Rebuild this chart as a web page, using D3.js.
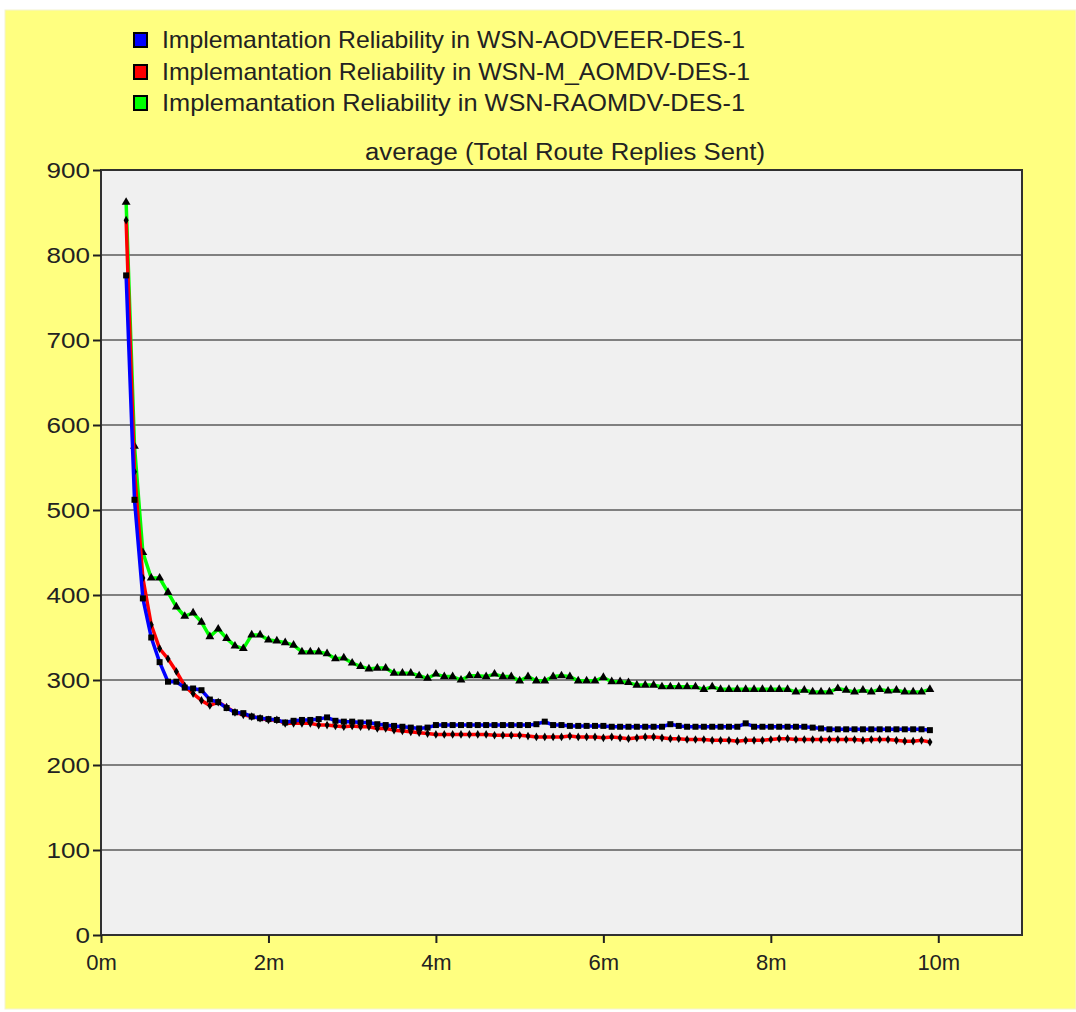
<!DOCTYPE html>
<html>
<head>
<meta charset="utf-8">
<script src="https://cdn.jsdelivr.net/npm/d3@7"></script>
<style>
  body { margin: 0; background: #fff; }
  svg { display: block; font-family: "Liberation Sans", Arial, sans-serif; }
</style>
</head>
<body>
<div id="chart"></div>
<script>
// sample times (minutes)
const times = [0.3, 0.4, 0.5, 0.6, 0.7, 0.8, 0.9, 1.0, 1.1, 1.2, 1.3, 1.4, 1.5, 1.6, 1.7, 1.8, 1.9,
  2.0, 2.1, 2.2, 2.3, 2.4, 2.5, 2.6, 2.7, 2.8, 2.9, 3.0, 3.1, 3.2, 3.3, 3.4, 3.5, 3.6, 3.7, 3.8, 3.9,
  4.0, 4.1, 4.2, 4.3, 4.4, 4.5, 4.6, 4.7, 4.8, 4.9, 5.0, 5.1, 5.2, 5.3, 5.4, 5.5, 5.6, 5.7, 5.8, 5.9,
  6.0, 6.1, 6.2, 6.3, 6.4, 6.5, 6.6, 6.7, 6.8, 6.9, 7.0, 7.1, 7.2, 7.3, 7.4, 7.5, 7.6, 7.7, 7.8, 7.9,
  8.0, 8.1, 8.2, 8.3, 8.4, 8.5, 8.6, 8.7, 8.8, 8.9, 9.0, 9.1, 9.2, 9.3, 9.4, 9.5, 9.6, 9.7, 9.8, 9.9];

const aodveer = [776, 512, 396, 350, 321, 298, 298, 291, 290, 288, 277, 274, 267, 262, 261, 257, 255,
  254, 253, 250, 252, 253, 253, 254, 256, 252, 251, 251, 250, 250, 248, 247, 246, 245, 244, 243, 244,
  247, 247, 247, 247, 247, 247, 247, 247, 247, 247, 247, 247, 248, 251, 247, 247, 246, 246, 246, 246,
  246, 245, 245, 245, 245, 245, 245, 245, 248, 246, 245, 245, 245, 245, 245, 245, 245, 249, 245, 245,
  245, 245, 245, 245, 245, 244, 243, 242, 242, 242, 242, 242, 242, 242, 242, 242, 242, 242, 242, 241];

const mAomdv = [841, 545, 420, 365, 337, 325, 310, 293, 284, 276, 270, 274, 268, 262, 259, 257, 255,
  253, 253, 249, 249, 249, 249, 247, 247, 246, 245, 246, 245, 245, 243, 243, 241, 240, 239, 238, 237,
  236, 236, 236, 236, 236, 236, 236, 235, 235, 235, 235, 234, 233, 233, 233, 233, 234, 233, 233, 233,
  232, 233, 232, 231, 232, 233, 233, 232, 231, 231, 230, 230, 230, 229, 229, 229, 228, 229, 229, 229,
  230, 231, 231, 230, 230, 230, 230, 230, 230, 230, 230, 229, 230, 230, 230, 229, 228, 228, 229, 227];

const raomdv = [862, 575, 450, 420, 420, 403, 386, 375, 379, 368, 351, 360, 349, 340, 337, 353, 353,
  347, 346, 344, 341, 333, 333, 333, 331, 325, 326, 320, 316, 313, 314, 314, 308, 308, 308, 305, 302,
  307, 304, 304, 300, 305, 305, 304, 307, 304, 304, 299, 304, 299, 299, 304, 305, 304, 299, 299, 299,
  303, 298, 298, 297, 294, 294, 294, 292, 292, 292, 292, 292, 289, 292, 289, 289, 289, 289, 289, 289,
  289, 289, 289, 286, 288, 286, 286, 286, 290, 288, 286, 288, 286, 289, 287, 288, 286, 286, 286, 289];

const seriesNames = [
  "Implemantation Reliability in WSN-AODVEER-DES-1",
  "Implemantation Reliability in WSN-M_AOMDV-DES-1",
  "Implemantation Reliability in WSN-RAOMDV-DES-1"
];
const seriesColors = ["#0000ff", "#ff0000", "#00ff00"];
const yTicks = [0, 100, 200, 300, 400, 500, 600, 700, 800, 900];
const xTicks = [0, 2, 4, 6, 8, 10];
const xTickLabels = ["0m", "2m", "4m", "6m", "8m", "10m"];
const chartTitle = "average (Total Route Replies Sent)";

const W = 1076, H = 1012;
const plot = { left: 101, right: 1022, top: 170, bottom: 935 };

const svg = d3.select("#chart").append("svg").attr("width", W).attr("height", H);

// yellow panel
svg.append("rect").attr("x", 5).attr("y", 10).attr("width", W - 5).attr("height", 999)
  .attr("fill", "#ffff80").attr("stroke", "#f4f4d0").attr("stroke-width", 1);

const x = d3.scaleLinear().domain([0, 11]).range([plot.left, plot.right]);
const y = d3.scaleLinear().domain([0, 900]).range([plot.bottom, plot.top]);

svg.append("rect")
  .attr("x", plot.left).attr("y", plot.top)
  .attr("width", plot.right - plot.left).attr("height", plot.bottom - plot.top)
  .attr("fill", "#f0f0f0");

// grid
svg.append("g").selectAll("line")
  .data(yTicks.filter(d => d > 0 && d < 900))
  .join("line")
  .attr("x1", plot.left).attr("x2", plot.right)
  .attr("y1", d => y(d)).attr("y2", d => y(d))
  .attr("stroke", "#808080").attr("stroke-width", 2);

// frame
svg.append("rect")
  .attr("x", plot.left).attr("y", plot.top)
  .attr("width", plot.right - plot.left).attr("height", plot.bottom - plot.top)
  .attr("fill", "none").attr("stroke", "#303030").attr("stroke-width", 2);

// axes
const yAxis = svg.append("g")
  .attr("transform", `translate(${plot.left},0)`)
  .call(d3.axisLeft(y).tickValues(yTicks).tickSize(8).tickPadding(3));
const xAxis = svg.append("g")
  .attr("transform", `translate(0,${plot.bottom})`)
  .call(d3.axisBottom(x).tickValues(xTicks).tickSize(8).tickPadding(11)
    .tickFormat((d, i) => xTickLabels[i]));

[yAxis, xAxis].forEach(g => {
  g.select(".domain").remove();
  g.selectAll(".tick line").attr("stroke", "#202020").attr("stroke-width", 2);
  g.selectAll(".tick text").attr("fill", "#222").style("font-size", "22px");
});
yAxis.selectAll(".tick text").attr("textLength", d => String(d).length * 14.5)
  .attr("lengthAdjust", "spacingAndGlyphs");

// series, green at the back, blue on top
const series = [
  { values: raomdv, color: seriesColors[2], symbol: d3.symbolTriangle, size: 34 },
  { values: mAomdv, color: seriesColors[1], symbol: d3.symbolDiamond, size: 22 },
  { values: aodveer, color: seriesColors[0], symbol: d3.symbolSquare, size: 36 }
];

const line = d3.line().x((d, i) => x(times[i])).y(d => y(d));

series.forEach(s => {
  const g = svg.append("g");
  g.append("path")
    .attr("d", line(s.values))
    .attr("fill", "none").attr("stroke", s.color).attr("stroke-width", 3.5)
    .attr("stroke-linejoin", "round");
  g.selectAll("path.mark")
    .data(s.values)
    .join("path")
    .attr("class", "mark")
    .attr("transform", (d, i) => `translate(${x(times[i])},${y(d)})`)
    .attr("d", d3.symbol().type(s.symbol).size(s.size))
    .attr("fill", "#000");
});

// legend
const legendRows = [40, 72, 103];
const legendWidths = [583, 588, 583];
const legend = svg.append("g");
seriesNames.forEach((name, i) => {
  legend.append("rect")
    .attr("x", 134).attr("y", legendRows[i] - 7).attr("width", 13).attr("height", 14)
    .attr("fill", seriesColors[i]).attr("stroke", "#000").attr("stroke-width", 2);
  legend.append("text")
    .attr("x", 162).attr("y", legendRows[i] + 8)
    .attr("textLength", legendWidths[i]).attr("lengthAdjust", "spacingAndGlyphs")
    .attr("fill", "#222").style("font-size", "24px")
    .text(name);
});

svg.append("text")
  .attr("x", 565).attr("y", 160)
  .attr("text-anchor", "middle")
  .attr("textLength", 400).attr("lengthAdjust", "spacingAndGlyphs")
  .attr("fill", "#222").style("font-size", "23px")
  .text(chartTitle);
</script>
</body>
</html>
